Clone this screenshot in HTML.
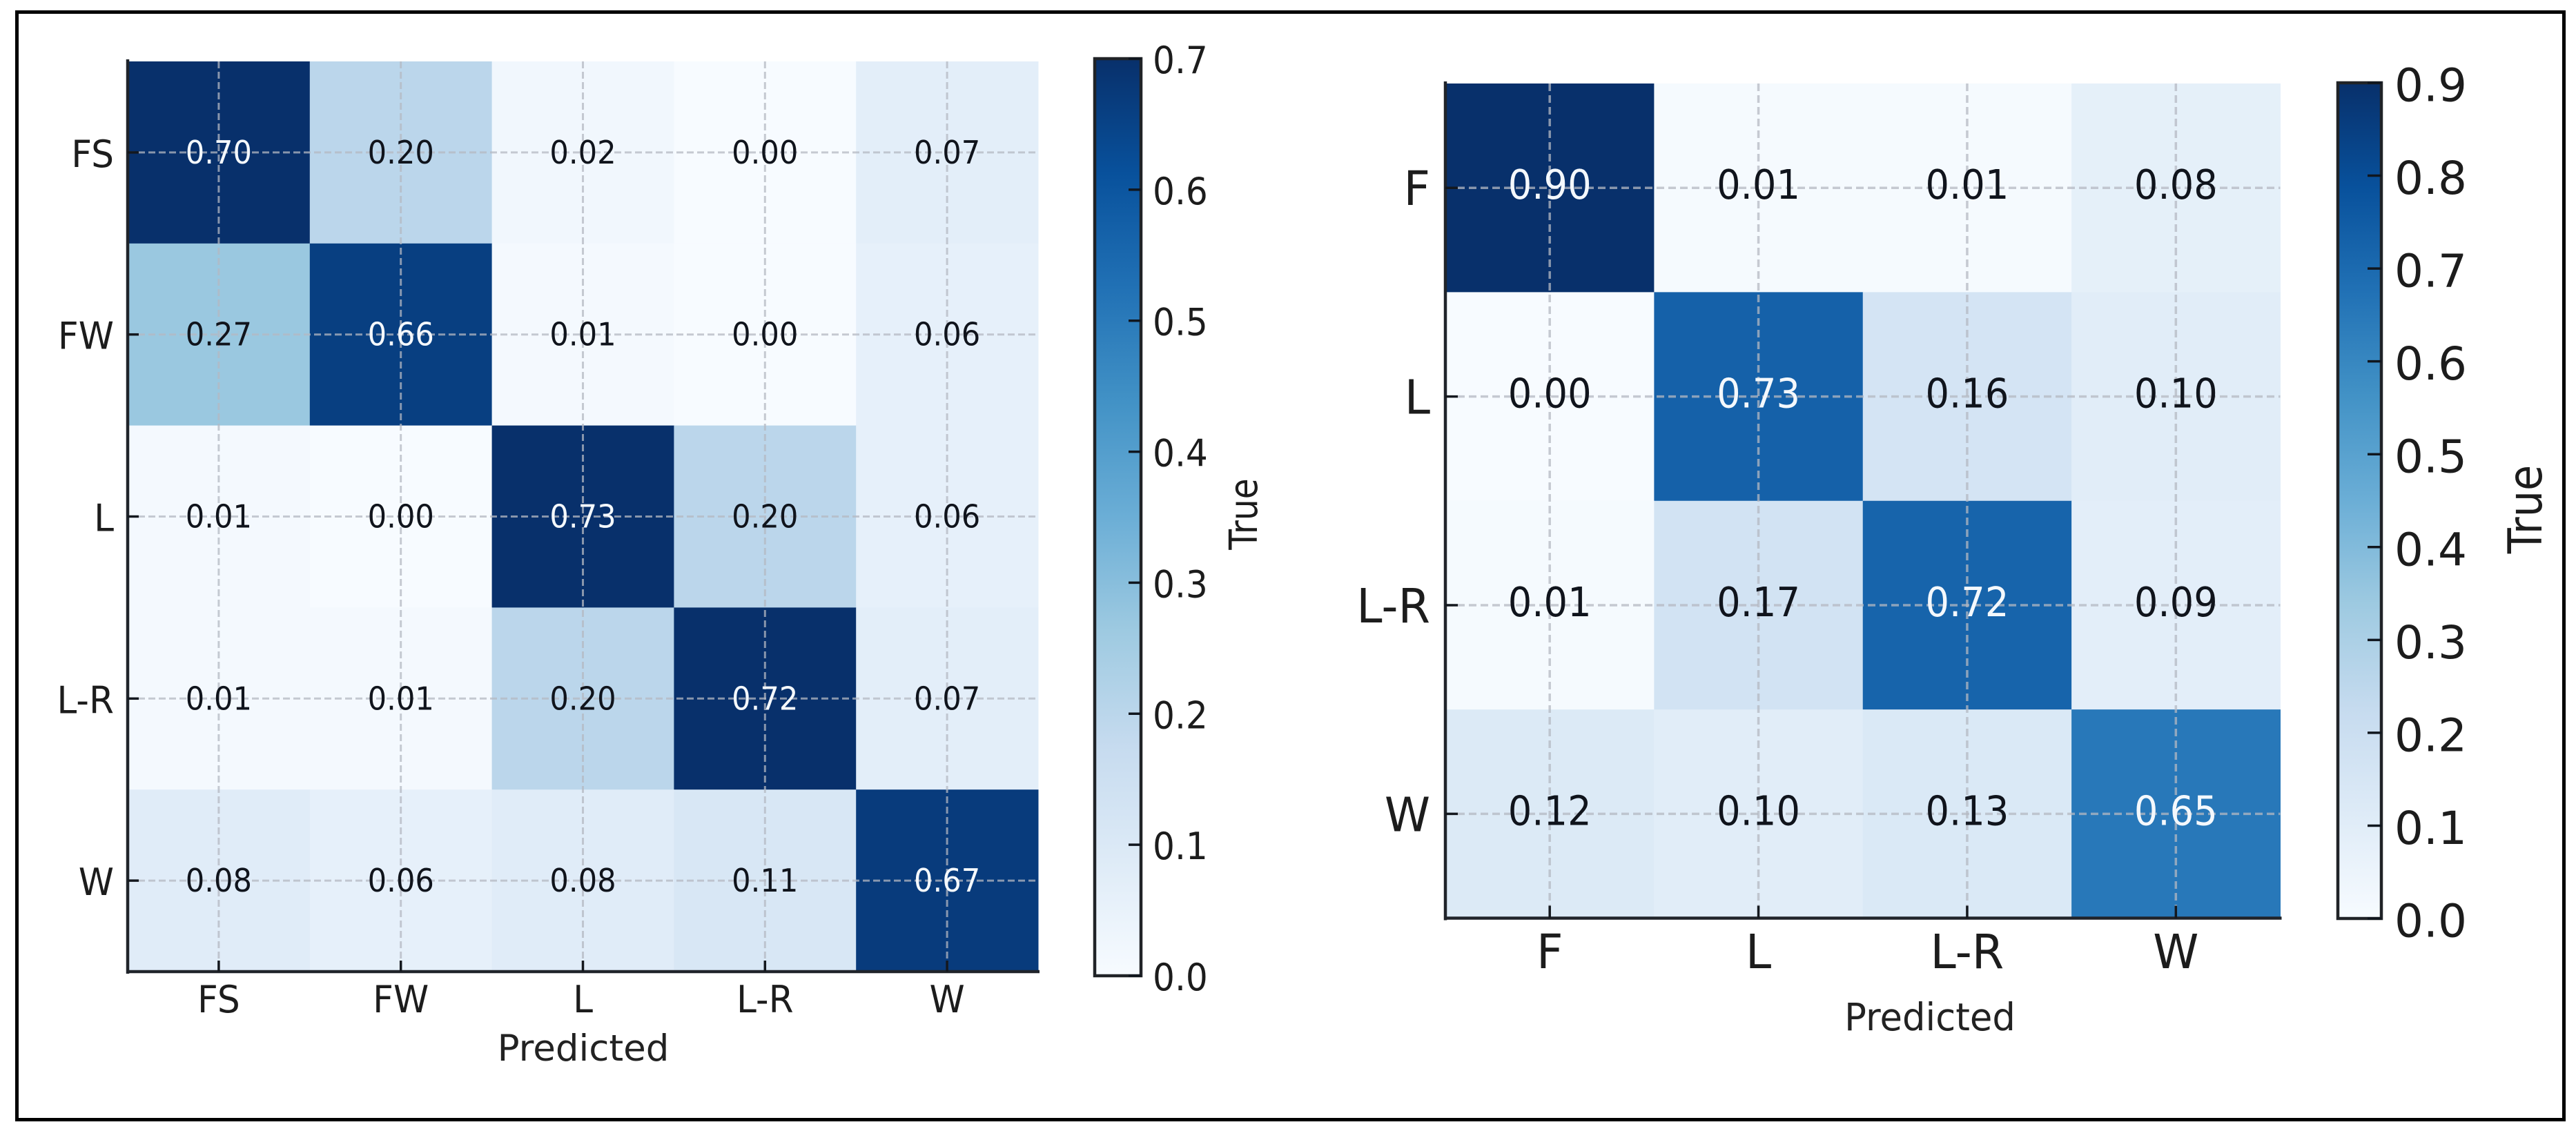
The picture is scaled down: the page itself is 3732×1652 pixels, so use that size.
<!DOCTYPE html>
<html lang="en">
<head>
<meta charset="utf-8">
<title>Confusion matrices</title>
<style>
  html, body { margin: 0; padding: 0; background: #fff; }
  body { width: 3732px; height: 1652px; overflow: hidden; }
  svg { display: block; }
  text { font-family: "DejaVu Sans", "Liberation Sans", sans-serif; }
</style>
</head>
<body>
<svg id="figure" xmlns="http://www.w3.org/2000/svg" width="3732" height="1652" viewBox="0 0 3732 1652">
  <defs>
    <linearGradient id="blues" x1="0" y1="1" x2="0" y2="0">
      <stop offset="0" stop-color="#f7fbff"/>
      <stop offset="0.125" stop-color="#deebf7"/>
      <stop offset="0.25" stop-color="#c6dbef"/>
      <stop offset="0.375" stop-color="#9ecae1"/>
      <stop offset="0.5" stop-color="#6baed6"/>
      <stop offset="0.625" stop-color="#4292c6"/>
      <stop offset="0.75" stop-color="#2171b5"/>
      <stop offset="0.875" stop-color="#08519c"/>
      <stop offset="1" stop-color="#08306b"/>
    </linearGradient>
  </defs>
  <rect x="0" y="0" width="3732" height="1652" fill="#ffffff"/>
  <rect x="24.5" y="17.5" width="3690" height="1605" fill="none" stroke="#000000" stroke-width="5"/>
</svg>
<script>
// Left chart data
const leftCategories = ['FS', 'FW', 'L', 'L-R', 'W'];
const leftMatrix = [
  [0.70, 0.20, 0.02, 0.00, 0.07],
  [0.27, 0.66, 0.01, 0.00, 0.06],
  [0.01, 0.00, 0.73, 0.20, 0.06],
  [0.01, 0.01, 0.20, 0.72, 0.07],
  [0.08, 0.06, 0.08, 0.11, 0.67]
];
const leftColorbarTicks = [0.0, 0.1, 0.2, 0.3, 0.4, 0.5, 0.6, 0.7];

// Right chart data
const rightCategories = ['F', 'L', 'L-R', 'W'];
const rightMatrix = [
  [0.90, 0.01, 0.01, 0.08],
  [0.00, 0.73, 0.16, 0.10],
  [0.01, 0.17, 0.72, 0.09],
  [0.12, 0.10, 0.13, 0.65]
];
const rightColorbarTicks = [0.0, 0.1, 0.2, 0.3, 0.4, 0.5, 0.6, 0.7, 0.8, 0.9];

const xAxisTitle = 'Predicted';
const colorbarTitle = 'True';
const blues = ['#f7fbff', '#deebf7', '#c6dbef', '#9ecae1', '#6baed6', '#4292c6', '#2171b5', '#08519c', '#08306b'];

const NS = 'http://www.w3.org/2000/svg';
const root = document.getElementById('figure');

function add(parent, tag, name, attrs) {
  const el = document.createElementNS(NS, tag);
  
  
  for (const k in attrs) el.setAttribute(k, attrs[k]);
  parent.appendChild(el);
  return el;
}

function label(parent, name, str, x, y, size, sx, anchor, fill, rot) {
  const el = add(parent, 'text', name, {
    transform: 'translate(' + x + ',' + y + ') rotate(' + (rot || 0) + ') scale(' + sx + ',1)',
    'font-size': size,
    'text-anchor': anchor,
    fill: fill
  });
  el.textContent = str;
  return el;
}

function colorFor(value, vmax) {
  const t = Math.max(0, Math.min(1, value / vmax)) * (blues.length - 1);
  const i = Math.min(blues.length - 2, Math.floor(t));
  const f = t - i;
  const parse = function (h) { return [1, 3, 5].map(function (p) { return parseInt(h.substr(p, 2), 16); }); };
  const a = parse(blues[i]);
  const b = parse(blues[i + 1]);
  return 'rgb(' + a.map(function (c, k) { return Math.round(c + (b[k] - c) * f); }).join(',') + ')';
}

function drawHeatmap(prefix, categories, matrix, barTicks, L) {
  const group = add(root, 'g', prefix + '-confusion-matrix', {});
  const n = categories.length;
  const cellW = L.w / n;
  const cellH = L.h / n;
  const xPos = function (col) { return L.x + col * cellW; };
  const yPos = function (row) { return L.y + row * cellH; };
  const barMax = barTicks[barTicks.length - 1];
  const barY = function (v) { return L.barBottom + (L.barTop - L.barBottom) * (v / barMax); };

  // cells
  matrix.forEach(function (row, r) {
    row.forEach(function (v, c) {
      add(group, 'rect', prefix + '-cell-' + categories[r] + '-' + categories[c], {
        x: xPos(c), y: yPos(r), width: cellW + 0.5, height: cellH + 0.5,
        fill: colorFor(v, barMax)
      });
    });
  });

  // grid
  categories.forEach(function (cat, i) {
    const gx = xPos(i + 0.5);
    const gy = yPos(i + 0.5);
    add(group, 'line', prefix + '-gridline-x-' + cat, {
      x1: gx, x2: gx, y1: L.y, y2: L.y + L.h,
      stroke: '#b4b8c2', 'stroke-opacity': 0.75, 'stroke-width': L.gridW, 'stroke-dasharray': L.dash
    });
    add(group, 'line', prefix + '-gridline-y-' + cat, {
      x1: L.x, x2: L.x + L.w, y1: gy, y2: gy,
      stroke: '#b4b8c2', 'stroke-opacity': 0.75, 'stroke-width': L.gridW, 'stroke-dasharray': L.dash
    });
  });

  // printed values
  matrix.forEach(function (row, r) {
    row.forEach(function (v, c) {
      label(group, prefix + '-value-' + categories[r] + '-' + categories[c], v.toFixed(2),
        xPos(c + 0.5), yPos(r + 0.5) + L.valueDy, L.valueSize, L.valueSx, 'middle',
        v > barMax * 0.5 ? '#f4f8fc' : '#10141c');
    });
  });

  // spines
  add(group, 'line', prefix + '-y-axis-line', {
    x1: L.x, x2: L.x, y1: L.y - 3, y2: L.y + L.h + 3, stroke: '#20242a', 'stroke-width': 4.5
  });
  add(group, 'line', prefix + '-x-axis-line', {
    x1: L.x - 2, x2: L.x + L.w + 2, y1: L.y + L.h, y2: L.y + L.h, stroke: '#20242a', 'stroke-width': 4.5
  });

  // ticks & tick labels
  categories.forEach(function (cat, i) {
    const gx = xPos(i + 0.5);
    const gy = yPos(i + 0.5);
    add(group, 'line', prefix + '-x-tick-' + cat, {
      x1: gx, x2: gx, y1: L.y + L.h, y2: L.y + L.h - L.tickLen, stroke: '#14181e', 'stroke-width': 3.5
    });
    add(group, 'line', prefix + '-y-tick-' + cat, {
      x1: L.x, x2: L.x + L.tickLen, y1: gy, y2: gy, stroke: '#14181e', 'stroke-width': 3.5
    });
    label(group, prefix + '-x-tick-label-' + cat, cat, gx, L.xLabelBase, L.catSize, L.catSx, 'middle', '#1c1c1c');
    label(group, prefix + '-y-tick-label-' + cat, cat, L.yLabelRight, gy + L.catDy, L.catSize, L.catSx, 'end', '#1c1c1c');
  });

  label(group, prefix + '-x-axis-title', xAxisTitle, L.titleX, L.titleBase, L.titleSize, L.titleSx, 'middle', '#222222');

  // colorbar
  const barGroup = add(group, 'g', prefix + '-colorbar', {});
  add(barGroup, 'rect', prefix + '-colorbar-fill', {
    x: L.barX, y: L.barTop, width: L.barW, height: L.barBottom - L.barTop,
    fill: 'url(#blues)', stroke: '#202327', 'stroke-width': 4.5
  });
  barTicks.forEach(function (t) {
    add(barGroup, 'line', prefix + '-colorbar-tick-' + t.toFixed(1), {
      x1: L.barX + L.barW, x2: L.barX + L.barW - L.barTickLen, y1: barY(t), y2: barY(t),
      stroke: '#10161e', 'stroke-width': 3.5
    });
    label(barGroup, prefix + '-colorbar-tick-label-' + t.toFixed(1), t.toFixed(1),
      L.barLabelX, barY(t) + L.barLabelDy, L.barLabelSize, L.barLabelSx, 'start', '#1c1c1c');
  });
  label(barGroup, prefix + '-colorbar-title', colorbarTitle, L.barTitleX, L.barTitleY, L.barTitleSize, L.barTitleSx, 'middle', '#1c1c1c', -90);
}

drawHeatmap('left', leftCategories, leftMatrix, leftColorbarTicks, {
  x: 185, y: 89, w: 1319, h: 1319,
  gridW: 3, dash: '10 5', tickLen: 16,
  valueSize: 46, valueSx: 0.94, valueDy: 16,
  catSize: 54, catSx: 0.96, catDy: 21,
  xLabelBase: 1467, yLabelRight: 165,
  titleX: 845, titleBase: 1537, titleSize: 53, titleSx: 1.0,
  barX: 1586, barW: 67, barTop: 85, barBottom: 1414, barTickLen: 18,
  barLabelX: 1670, barLabelDy: 21, barLabelSize: 54, barLabelSx: 0.93,
  barTitleX: 1821, barTitleY: 745, barTitleSize: 56, barTitleSx: 0.87
});

drawHeatmap('right', rightCategories, rightMatrix, rightColorbarTicks, {
  x: 2094, y: 121, w: 1209.5, h: 1209.5,
  gridW: 3.5, dash: '11 6', tickLen: 18,
  valueSize: 59, valueSx: 0.92, valueDy: 16,
  catSize: 69, catSx: 0.97, catDy: 25,
  xLabelBase: 1403, yLabelRight: 2072,
  titleX: 2796, titleBase: 1493, titleSize: 55, titleSx: 0.96,
  barX: 3387, barW: 63, barTop: 120, barBottom: 1331, barTickLen: 20,
  barLabelX: 3469, barLabelDy: 26.5, barLabelSize: 66, barLabelSx: 1.0,
  barTitleX: 3682, barTitleY: 738, barTitleSize: 68, barTitleSx: 0.89
});
</script>
</body>
</html>
